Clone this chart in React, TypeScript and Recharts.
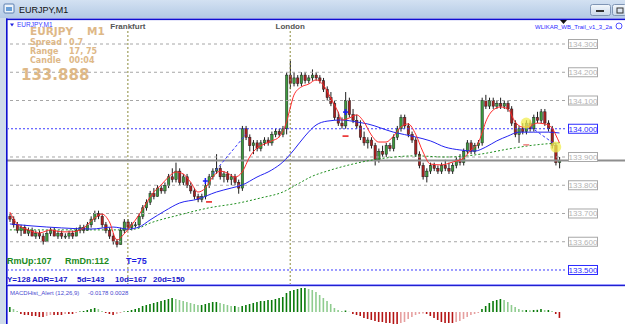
import React from "react";
import {
  ComposedChart,
  BarChart,
  Bar,
  Line,
  XAxis,
  YAxis,
  ReferenceLine,
  ReferenceDot,
  Cell,
} from "recharts";

// one row per M1 candle: [open, high, low, close]
const CANDLES: number[][] = [
  [133.69, 133.7, 133.67, 133.68],
  [133.68, 133.69, 133.65, 133.66],
  [133.66, 133.67, 133.63, 133.64],
  [133.64, 133.66, 133.62, 133.65],
  [133.65, 133.66, 133.63, 133.63],
  [133.63, 133.65, 133.62, 133.64],
  [133.64, 133.65, 133.62, 133.62],
  [133.62, 133.64, 133.61, 133.63],
  [133.63, 133.64, 133.61, 133.62],
  [133.62, 133.63, 133.59, 133.6],
  [133.6, 133.64, 133.6, 133.63],
  [133.63, 133.65, 133.62, 133.64],
  [133.64, 133.65, 133.62, 133.62],
  [133.62, 133.64, 133.61, 133.63],
  [133.63, 133.64, 133.61, 133.62],
  [133.62, 133.63, 133.61, 133.62],
  [133.62, 133.64, 133.61, 133.63],
  [133.63, 133.64, 133.61, 133.62],
  [133.62, 133.65, 133.62, 133.64],
  [133.64, 133.66, 133.63, 133.65],
  [133.65, 133.66, 133.63, 133.64],
  [133.64, 133.67, 133.64, 133.66],
  [133.66, 133.69, 133.65, 133.68],
  [133.68, 133.71, 133.67, 133.7],
  [133.7, 133.71, 133.68, 133.69],
  [133.69, 133.7, 133.65, 133.66],
  [133.66, 133.67, 133.63, 133.64],
  [133.64, 133.65, 133.61, 133.62],
  [133.62, 133.63, 133.59, 133.6],
  [133.6, 133.61, 133.58, 133.59],
  [133.59, 133.65, 133.59, 133.64],
  [133.64, 133.68, 133.63, 133.67],
  [133.67, 133.68, 133.64, 133.65],
  [133.65, 133.67, 133.64, 133.66],
  [133.66, 133.67, 133.65, 133.66],
  [133.66, 133.7, 133.65, 133.69],
  [133.69, 133.73, 133.68, 133.72],
  [133.72, 133.75, 133.71, 133.74],
  [133.74, 133.78, 133.73, 133.77],
  [133.77, 133.79, 133.75, 133.76],
  [133.76, 133.8, 133.76, 133.79],
  [133.79, 133.8, 133.77, 133.78],
  [133.78, 133.81, 133.77, 133.8],
  [133.8, 133.84, 133.79, 133.83],
  [133.83, 133.86, 133.81, 133.82],
  [133.82, 133.88, 133.81, 133.85],
  [133.85, 133.86, 133.8, 133.81],
  [133.81, 133.84, 133.8, 133.83],
  [133.83, 133.84, 133.79, 133.8],
  [133.8, 133.81, 133.77, 133.78],
  [133.78, 133.79, 133.75, 133.76],
  [133.76, 133.77, 133.74, 133.75],
  [133.75, 133.77, 133.74, 133.76],
  [133.76, 133.81, 133.75, 133.8],
  [133.8, 133.84, 133.79, 133.83],
  [133.83, 133.86, 133.82, 133.85],
  [133.85, 133.91, 133.84, 133.86],
  [133.86, 133.87, 133.82, 133.83],
  [133.83, 133.85, 133.81, 133.84],
  [133.84, 133.85, 133.81, 133.82],
  [133.82, 133.84, 133.8, 133.83],
  [133.83, 133.84, 133.8, 133.81],
  [133.81, 133.82, 133.77, 133.79],
  [133.79, 134.01, 133.78, 134.0],
  [134.0, 134.01, 133.96, 133.97],
  [133.97, 133.98, 133.92, 133.94],
  [133.94, 133.96, 133.91, 133.95],
  [133.95, 133.96, 133.92, 133.93],
  [133.93, 133.96, 133.92, 133.95],
  [133.95, 133.97, 133.94, 133.96],
  [133.96, 133.97, 133.94, 133.95],
  [133.95, 133.99, 133.94, 133.98],
  [133.98, 134.0, 133.97, 133.99],
  [133.99, 134.0, 133.97, 133.98],
  [133.98, 134.01, 133.97, 134.0],
  [134.0, 134.2, 133.98, 134.19],
  [134.19, 134.24, 134.14, 134.16],
  [134.16, 134.2, 134.15, 134.18],
  [134.18, 134.19, 134.15, 134.16],
  [134.16, 134.2, 134.15, 134.19],
  [134.19, 134.2, 134.16, 134.17],
  [134.17, 134.19, 134.16, 134.18],
  [134.18, 134.21, 134.17, 134.19],
  [134.19, 134.2, 134.17, 134.18],
  [134.18, 134.19, 134.16, 134.17],
  [134.17, 134.18, 134.13, 134.14],
  [134.14, 134.15, 134.1, 134.11],
  [134.11, 134.13, 134.08, 134.09],
  [134.09, 134.1, 134.03, 134.04],
  [134.04, 134.06, 134.01, 134.02],
  [134.02, 134.04, 134.0, 134.01],
  [134.01, 134.13, 134.0, 134.1],
  [134.1, 134.11, 134.04, 134.05],
  [134.05, 134.07, 134.02, 134.03],
  [134.03, 134.05, 134.0, 134.01],
  [134.01, 134.03, 133.96, 133.97],
  [133.97, 133.99, 133.94, 133.95],
  [133.95, 133.97, 133.93, 133.96],
  [133.96, 133.97, 133.93, 133.94],
  [133.94, 133.95, 133.87, 133.89],
  [133.89, 133.93, 133.88, 133.92],
  [133.92, 133.94, 133.9, 133.91],
  [133.91, 133.95, 133.9, 133.94],
  [133.94, 133.95, 133.92, 133.93],
  [133.93, 133.98, 133.92, 133.97],
  [133.97, 134.01, 133.96, 134.0],
  [134.0, 134.05, 133.99, 134.04],
  [134.04, 134.05, 134.0, 134.01],
  [134.01, 134.02, 133.97, 133.98],
  [133.98, 133.99, 133.95, 133.96],
  [133.96, 133.97, 133.9, 133.91],
  [133.91, 133.92, 133.86, 133.87],
  [133.87, 133.88, 133.82, 133.83],
  [133.83, 133.86, 133.81, 133.85],
  [133.85, 133.88, 133.84, 133.87],
  [133.87, 133.88, 133.85, 133.86],
  [133.86, 133.87, 133.84, 133.85],
  [133.85, 133.88, 133.84, 133.87],
  [133.87, 133.89, 133.85, 133.86],
  [133.86, 133.88, 133.84, 133.85],
  [133.85, 133.88, 133.84, 133.87],
  [133.87, 133.9, 133.86, 133.89],
  [133.89, 133.91, 133.87, 133.88],
  [133.88, 133.93, 133.87, 133.92],
  [133.92, 133.96, 133.91, 133.95],
  [133.95, 133.96, 133.91, 133.92],
  [133.92, 133.95, 133.91, 133.94],
  [133.94, 133.96, 133.93, 133.95],
  [133.95, 134.11, 133.94, 134.1],
  [134.1, 134.12, 134.07, 134.08],
  [134.08, 134.11, 134.07, 134.1],
  [134.1, 134.11, 134.07, 134.08],
  [134.08, 134.1, 134.07, 134.09],
  [134.09, 134.11, 134.07, 134.08],
  [134.08, 134.1, 134.07, 134.09],
  [134.09, 134.1, 134.06, 134.07],
  [134.07, 134.08, 134.01, 134.02],
  [134.02, 134.03, 133.97, 133.98],
  [133.98, 134.01, 133.95, 134.0],
  [134.0, 134.02, 133.98, 133.99],
  [133.99, 134.03, 133.98, 134.02],
  [134.02, 134.03, 133.99, 134.0],
  [134.0, 134.05, 133.99, 134.04],
  [134.04, 134.06, 134.02, 134.03],
  [134.03, 134.07, 134.02, 134.06],
  [134.06, 134.07, 134.01, 134.02],
  [134.02, 134.03, 133.99, 134.0],
  [134.0, 134.01, 133.93, 133.94],
  [133.94, 133.95, 133.87, 133.88],
  [133.88, 133.9, 133.86, 133.888],
];

// moving averages: [candle index, price]
const RED_MA: number[][] = [
  [0, 133.705], [2, 133.663], [5, 133.642], [8, 133.631], [11, 133.642],
  [14, 133.635], [17, 133.635], [20, 133.649], [23, 133.684], [25, 133.698],
  [27, 133.67], [29, 133.606], [31, 133.628], [33, 133.659], [35, 133.695],
  [37, 133.737], [39, 133.776], [41, 133.801], [43, 133.829], [45, 133.847],
  [47, 133.84], [49, 133.811], [51, 133.776], [53, 133.79], [55, 133.829],
  [57, 133.85], [59, 133.843], [61, 133.829], [63, 133.847], [65, 133.9],
  [67, 133.932], [69, 133.946], [71, 133.957], [73, 133.971], [75, 134.024],
  [76, 134.073], [77, 134.119], [79, 134.148], [81, 134.158], [83, 134.173],
  [85, 134.155], [87, 134.109], [89, 134.059], [90, 134.031], [92, 134.038],
  [94, 134.049], [96, 134.024], [98, 133.978], [100, 133.953], [102, 133.953],
  [104, 133.974], [106, 134.006], [108, 134.017], [110, 133.981], [112, 133.918],
  [114, 133.875], [117, 133.872], [120, 133.882], [123, 133.896], [125, 133.925],
  [127, 133.95], [128, 133.985], [129, 134.024], [131, 134.066], [133, 134.077],
  [135, 134.07], [137, 134.024], [139, 134.006], [141, 134.01], [143, 134.02],
  [145, 134.017], [147, 134.003], [148, 133.978], [149, 133.95],
];

const BLUE_MA: number[][] = [
  [0, 133.663], [6, 133.656], [14, 133.649], [22, 133.645], [28, 133.652],
  [32, 133.645], [35, 133.652], [38, 133.677], [42, 133.709], [46, 133.737],
  [51, 133.751], [56, 133.776], [60, 133.79], [63, 133.801], [67, 133.829],
  [71, 133.854], [74, 133.882], [77, 133.925], [80, 133.974], [83, 134.013],
  [86, 134.027], [90, 134.031], [94, 134.024], [97, 134.017], [104, 133.988],
  [110, 133.971], [114, 133.957], [118, 133.935], [122, 133.925], [126, 133.921],
  [129, 133.935], [132, 133.957], [135, 133.974], [138, 133.988], [142, 133.988],
  [146, 133.988], [149, 133.985],
];

const GREEN_MA: number[][] = [
  [0, 133.642], [10, 133.642], [20, 133.642], [30, 133.642], [34, 133.645],
  [38, 133.666], [46, 133.695], [54, 133.72], [62, 133.737], [68, 133.755],
  [74, 133.776], [78, 133.804], [82, 133.832], [86, 133.85], [92, 133.872],
  [100, 133.893], [110, 133.904], [118, 133.9], [124, 133.904], [128, 133.911],
  [135, 133.928], [142, 133.942], [149, 133.95],
];

// MACD histogram, one value per candle
const MACD_HIST: number[] = [
  0.015, 0.009, 0.003, -0.006, -0.009, -0.009, -0.012, -0.012, -0.015, -0.015,
  -0.012, -0.009, -0.009, -0.009, -0.009, -0.006, -0.006, -0.006, -0.003, 0.0015,
  0.003, 0.006, 0.009, 0.012, 0.009, 0.003, -0.003, -0.006, -0.009, -0.006,
  -0.003, 0.0015, 0.003, 0.006, 0.009, 0.012, 0.018, 0.021, 0.024, 0.027,
  0.03, 0.033, 0.036, 0.039, 0.042, 0.039, 0.036, 0.033, 0.03, 0.027,
  0.024, 0.021, 0.021, 0.024, 0.027, 0.03, 0.03, 0.027, 0.024, 0.021,
  0.018, 0.018, 0.015, 0.018, 0.021, 0.024, 0.027, 0.03, 0.033, 0.033,
  0.036, 0.036, 0.039, 0.042, 0.045, 0.057, 0.063, 0.066, 0.069, 0.072,
  0.072, 0.069, 0.066, 0.06, 0.051, 0.042, 0.033, 0.024, 0.012, 0.006,
  0.003, 0.0045, 0.0005, -0.006, -0.009, -0.012, -0.018, -0.021, -0.024, -0.027,
  -0.03, -0.03, -0.033, -0.033, -0.036, -0.036, -0.033, -0.03, -0.021, -0.015,
  -0.009, -0.006, -0.0045, -0.006, -0.012, -0.018, -0.024, -0.03, -0.033, -0.033,
  -0.033, -0.03, -0.027, -0.021, -0.015, -0.009, -0.006, -0.003, 0.009, 0.018,
  0.027, 0.033, 0.036, 0.039, 0.036, 0.03, 0.021, 0.015, 0.009, 0.006,
  0.006, 0.0055, 0.006, 0.0065, 0.009, 0.006, 0.006, 0.003, -0.006, -0.0178,
];

const PRICE_TICKS = [133.5, 133.6, 133.7, 133.8, 133.9, 134.0, 134.1, 134.2, 134.3];
const BLUE_LEVELS = [134.0, 133.5];
const LAST_PRICE = 133.888;
const SESSIONS = [
  { at: 32, name: "Frankfurt" },
  { at: 76, name: "London" },
];
const SIGNALS = [
  { at: 53, price: 133.815, kind: "buy" },
  { at: 54, price: 133.741, kind: "sell" },
  { at: 91, price: 134.059, kind: "buy" },
  { at: 91, price: 133.974, kind: "sell" },
  { at: 140, price: 133.943, kind: "exit" },
  { at: 140, price: 134.02, kind: "alert" },
  { at: 148, price: 133.935, kind: "alert" },
];
const TRAILS = [
  [[55, 133.84], [64, 133.98]],
  [[140, 134.017], [148, 133.943]],
];

const FONT = '"Liberation Sans", Arial, sans-serif';
const VFONT = '"DejaVu Sans", Verdana, sans-serif';
const TAN = "#DEB887";

const toMap = (pts: number[][]) => new Map(pts.map(([i, v]) => [i, v]));
const redMap = toMap(RED_MA);
const blueMap = toMap(BLUE_MA);
const greenMap = toMap(GREEN_MA);

// one spare slot on the right, like the chart shift in the terminal
const rows = Array.from({ length: CANDLES.length + 1 }, (_, i) => {
  const c = CANDLES[i];
  return {
    i,
    range: c ? [c[2], c[1]] : undefined,
    open: c?.[0],
    high: c?.[1],
    low: c?.[2],
    close: c?.[3],
    red: redMap.get(i) ?? null,
    blue: blueMap.get(i) ?? null,
    green: greenMap.get(i) ?? null,
  };
});

const macdRows = Array.from({ length: MACD_HIST.length + 1 }, (_, i) => ({
  i,
  v: MACD_HIST[i] ?? null,
}));

const histColor = (i: number) => {
  const v = MACD_HIST[i] ?? 0;
  const prev = i > 0 ? MACD_HIST[i - 1] : v;
  if (v >= 0) return v >= prev ? "#0a7a0a" : "#8fcc8f";
  return v <= prev ? "#b41414" : "#e6a0a0";
};

const Candle = (props: any) => {
  const { x, y, width, height, payload } = props;
  if (!payload || payload.open == null) return null;
  const top = Math.min(y, y + height);
  const bot = Math.max(y, y + height);
  const span = payload.high - payload.low;
  const py = (v: number) => (span > 0 ? top + ((payload.high - v) / span) * (bot - top) : top);
  const cx = x + width / 2;
  const up = payload.close >= payload.open;
  const bt = py(Math.max(payload.open, payload.close));
  const bb = py(Math.min(payload.open, payload.close));
  const bw = 2.4;
  return (
    <g>
      <line x1={cx} x2={cx} y1={top} y2={bot} stroke="#1e1e1e" strokeWidth={1} />
      <rect
        x={cx - bw / 2}
        y={bt}
        width={bw}
        height={Math.max(1, bb - bt)}
        fill={up ? "#3c9a3c" : "#a82020"}
        stroke="#1e1e1e"
        strokeWidth={0.5}
      />
    </g>
  );
};

const PriceTick = (props: any) => {
  const { y, payload } = props;
  const blue = BLUE_LEVELS.includes(payload.value);
  const col = blue ? "#2b2bff" : "#a8a8a8";
  return (
    <g>
      <rect x={568.5} y={y - 4.5} width={29} height={9} fill="#fff" stroke={col} strokeWidth={1} />
      <text
        x={583}
        y={y + 3}
        textAnchor="middle"
        fontSize={8}
        fontFamily={FONT}
        fill={blue ? "#2b2bff" : "#b4b4b4"}
      >
        {payload.value.toFixed(3)}
      </text>
    </g>
  );
};

const sessionShape = (name: string) => (p: any) => {
  const top = Math.min(p.y1, p.y2);
  const bot = Math.max(p.y1, p.y2);
  return (
    <g>
      <line
        x1={p.x1}
        x2={p.x2}
        y1={top + 11}
        y2={bot}
        stroke="#8a8a3a"
        strokeWidth={1}
        strokeDasharray="2 2"
      />
      <text
        x={p.x1}
        y={top + 9}
        textAnchor="middle"
        fontSize={8}
        fontWeight="bold"
        fontFamily={FONT}
        fill="#555"
      >
        {name}
      </text>
    </g>
  );
};

const lastPriceShape = (p: any) => (
  <line
    x1={Math.min(p.x1, p.x2) - 1}
    x2={625}
    y1={p.y1}
    y2={p.y2}
    stroke="#8e8e8e"
    strokeWidth={2}
  />
);

const signalShape = (kind: string) => (p: any) => {
  const { cx, cy } = p;
  if (kind === "buy")
    return (
      <g stroke="#1a1aff" strokeWidth={1.5}>
        <line x1={cx - 2.5} x2={cx + 2.5} y1={cy} y2={cy} />
        <line x1={cx} x2={cx} y1={cy - 3} y2={cy + 3} />
      </g>
    );
  if (kind === "sell")
    return <line x1={cx - 3} x2={cx + 3} y1={cy} y2={cy} stroke="#e81818" strokeWidth={1.5} />;
  if (kind === "exit")
    return <line x1={cx - 3} x2={cx + 3} y1={cy} y2={cy} stroke="#f08080" strokeWidth={1.5} />;
  return <circle cx={cx} cy={cy} r={5.5} fill="#f2ee50" fillOpacity={0.75} />;
};

const Txt = ({ x, y, size, color, bold, font, children }: any) => (
  <text
    x={x}
    y={y}
    fontSize={size}
    fill={color}
    fontWeight={bold ? "bold" : "normal"}
    fontFamily={font || FONT}
  >
    {children}
  </text>
);

export default function App() {
  return (
    <div
      style={{
        position: "absolute",
        left: 0,
        top: 0,
        width: 625,
        height: 324,
        background: "#fff",
        overflow: "hidden",
      }}
    >
      <div style={{ position: "absolute", left: 0, top: 20, width: 625, height: 264 }}>
        <ComposedChart
          width={625}
          height={264}
          data={rows}
          margin={{ top: 0, right: 0, bottom: 0, left: 8 }}
          barCategoryGap={0}
        >
          <XAxis dataKey="i" hide />
          <YAxis
            orientation="right"
            width={60}
            domain={[133.4504, 134.385]}
            ticks={PRICE_TICKS}
            interval={0}
            tick={(p: any) => <PriceTick {...p} />}
            tickLine={false}
            axisLine={false}
            allowDataOverflow
          />
          {PRICE_TICKS.map((p) =>
            BLUE_LEVELS.includes(p) ? (
              <ReferenceLine key={p} y={p} stroke="#3b3bff" strokeDasharray="2 2" />
            ) : (
              <ReferenceLine key={p} y={p} stroke="#a6a6a6" strokeDasharray="3 3" />
            )
          )}
          {SESSIONS.map((s) => (
            <ReferenceLine key={s.name} x={s.at} shape={sessionShape(s.name)} />
          ))}
          <ReferenceLine y={LAST_PRICE} shape={lastPriceShape} />
          <Bar dataKey="range" shape={Candle} isAnimationActive={false} />
          <Line
            dataKey="green"
            type="monotone"
            stroke="#1f8f1f"
            strokeWidth={1}
            strokeDasharray="2 2"
            dot={false}
            connectNulls
            isAnimationActive={false}
          />
          <Line
            dataKey="blue"
            type="monotone"
            stroke="#2424f0"
            strokeWidth={1}
            dot={false}
            connectNulls
            isAnimationActive={false}
          />
          <Line
            dataKey="red"
            type="monotone"
            stroke="#ff2a2a"
            strokeWidth={1}
            dot={false}
            connectNulls
            isAnimationActive={false}
          />
          {TRAILS.map((t, k) => (
            <ReferenceLine
              key={k}
              segment={[
                { x: t[0][0], y: t[0][1] },
                { x: t[1][0], y: t[1][1] },
              ]}
              stroke="#3b3bff"
              strokeDasharray="3 2"
            />
          ))}
          {SIGNALS.map((s, k) => (
            <ReferenceDot key={k} x={s.at} y={s.price} shape={signalShape(s.kind)} />
          ))}
        </ComposedChart>
      </div>

      <div style={{ position: "absolute", left: 0, top: 286, width: 625, height: 38 }}>
        <BarChart
          width={625}
          height={38}
          data={macdRows}
          margin={{ top: 0, right: 60, bottom: 0, left: 8 }}
          barCategoryGap={0}
        >
          <XAxis dataKey="i" hide />
          <YAxis hide domain={[-0.036, 0.078]} allowDataOverflow />
          <Bar dataKey="v" barSize={1.6} isAnimationActive={false}>
            {macdRows.map((r) => (
              <Cell key={r.i} fill={histColor(r.i)} />
            ))}
          </Bar>
        </BarChart>
      </div>

      <svg
        width={625}
        height={324}
        style={{ position: "absolute", left: 0, top: 0, pointerEvents: "none" }}
      >
        <defs>
          <linearGradient id="tb" x1="0" y1="0" x2="0" y2="1">
            <stop offset="0" stopColor="#d3e1f2" />
            <stop offset="1" stopColor="#b4cae5" />
          </linearGradient>
          <linearGradient id="btn" x1="0" y1="0" x2="0" y2="1">
            <stop offset="0" stopColor="#f4f8fc" />
            <stop offset="1" stopColor="#c9d8ea" />
          </linearGradient>
        </defs>
        <rect x={0} y={0} width={625} height={18} fill="url(#tb)" />
        <rect x={0} y={18} width={6} height={306} fill="#cfdbea" />
        <rect x={4} y={4} width={10} height={9} fill="#eef4fb" stroke="#5a7fb0" strokeWidth={1} rx={1} />
        <rect x={6} y={7} width={6} height={4} fill="#6aa0d8" />
        <Txt x={19} y={13} size={9} color="#111">EURJPY,M1</Txt>
        <rect x={590.5} y={4.5} width={20} height={11} rx={2} fill="url(#btn)" stroke="#7f95b5" />
        <rect x={596} y={10} width={8} height={2} fill="#333" />
        <rect x={612.5} y={4.5} width={14} height={11} rx={2} fill="url(#btn)" stroke="#7f95b5" />
        <rect x={617} y={8} width={6} height={5} fill="none" stroke="#333" />

        <rect x={6} y={18.5} width={619} height={1.6} fill="#1010d0" />
        <rect x={6} y={18.5} width={1.6} height={306} fill="#1010d0" />
        <rect x={7} y={284} width={618} height={1} fill="#9a9aff" />
        <rect x={7} y={285} width={618} height={1.2} fill="#2020d0" />
        <path d="M560,20 L567,20 L563.5,24 Z" fill="#111" />

        <path d="M10,23.5 L14,23.5 L12,26.5 Z" fill="#2020e0" />
        <Txt x={17} y={27} size={6.5} color="#3a3aff">EURJPY,M1</Txt>
        <Txt x={30} y={35} size={10.5} color={TAN} bold font={VFONT}>EURJPY</Txt>
        <Txt x={87} y={35} size={10.5} color={TAN} bold font={VFONT}>M1</Txt>
        <Txt x={30} y={44.5} size={8} color={TAN} bold font={VFONT}>Spread</Txt>
        <Txt x={69} y={44.5} size={8} color={TAN} bold font={VFONT}>0.7</Txt>
        <Txt x={30} y={53.5} size={8} color={TAN} bold font={VFONT}>Range</Txt>
        <Txt x={69} y={53.5} size={8} color={TAN} bold font={VFONT}>17, 75</Txt>
        <Txt x={30} y={63} size={8} color={TAN} bold font={VFONT}>Candle</Txt>
        <Txt x={69} y={63} size={8} color={TAN} bold font={VFONT}>00:04</Txt>
        <Txt x={21} y={80} size={15} color={TAN} bold font={VFONT}>133.888</Txt>

        <Txt x={535} y={29} size={6} color="#2a2aff">WLIKAR_WB_Trail_v1_3_2a</Txt>
        <circle cx={619} cy={26} r={3} fill="#fff" stroke="#2a2aff" strokeWidth={0.8} />

        <Txt x={7} y={264} size={9} color="#228b22" bold>RmUp:107</Txt>
        <Txt x={65} y={264} size={9} color="#228b22" bold>RmDn:112</Txt>
        <Txt x={126} y={264} size={9} color="#1f1fe0" bold>T=75</Txt>
        <Txt x={7} y={282} size={8} color="#1515c8" bold>Y=128</Txt>
        <Txt x={32} y={282} size={8} color="#1515c8" bold>ADR=147</Txt>
        <Txt x={77} y={282} size={8} color="#1515c8" bold>5d=143</Txt>
        <Txt x={115} y={282} size={8} color="#1515c8" bold>10d=167</Txt>
        <Txt x={153} y={282} size={8} color="#1515c8" bold>20d=150</Txt>
        <Txt x={10} y={295} size={6} color="#4a4ad0">MACDHist_Alert (12,26,9)</Txt>
        <Txt x={88} y={295} size={6} color="#4a4ad0">-0.0178 0.0028</Txt>
      </svg>
    </div>
  );
}
